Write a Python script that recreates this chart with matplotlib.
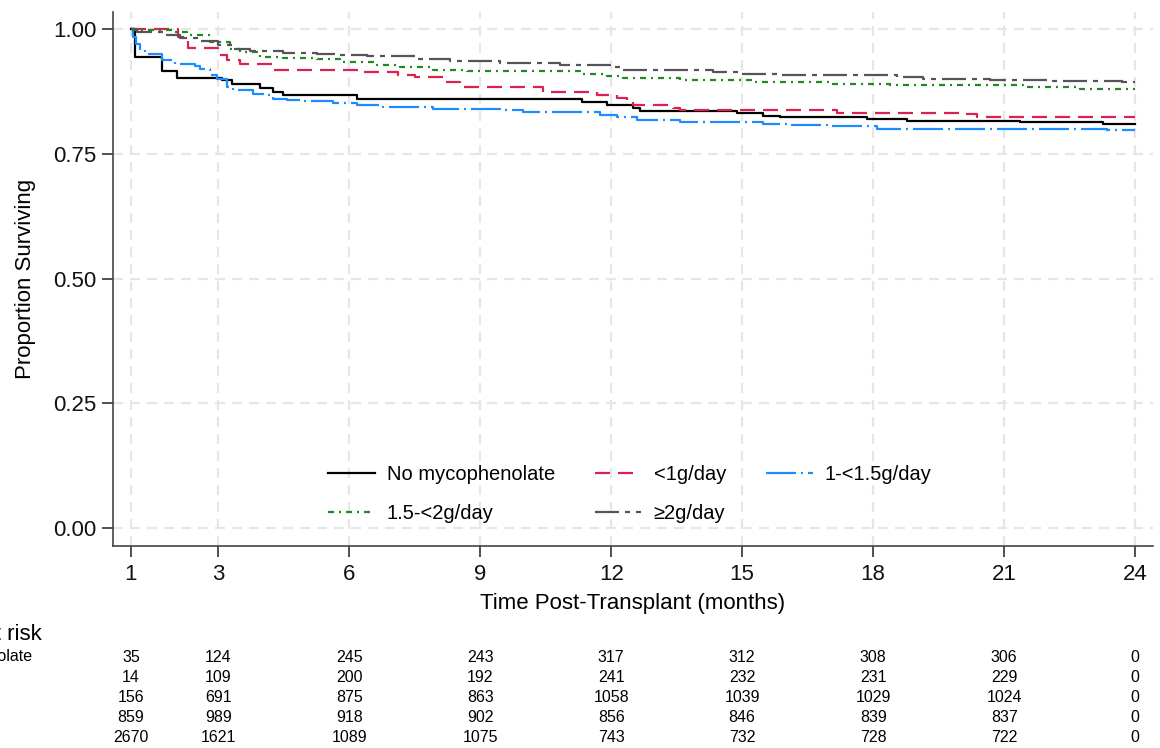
import matplotlib
matplotlib.use("Agg")
import matplotlib.pyplot as plt
from matplotlib.transforms import blended_transform_factory

plt.rcParams['font.family'] = ['Liberation Sans', 'DejaVu Sans']
plt.rcParams['lines.scale_dashes'] = False

# ---------------- data ----------------
groups = ["No mycophenolate", "<1g/day", "1-<1.5g/day", "1.5-<2g/day", "\u22652g/day"]

t_none = [1.00, 1.09, 1.71, 2.05, 3.08, 3.31, 3.96, 4.25, 4.48, 6.18, 11.33, 11.90, 12.50,
          12.66, 14.88, 15.48, 15.87, 17.86, 18.78, 21.37, 23.27, 24.0]
s_none = [1.000, 0.944, 0.916, 0.903, 0.898, 0.891, 0.882, 0.874, 0.868, 0.861, 0.854, 0.848,
          0.842, 0.836, 0.832, 0.826, 0.824, 0.821, 0.816, 0.814, 0.811, 0.811]

t_lt1 = [1.00, 2.08, 2.31, 2.99, 3.20, 3.50, 4.23, 6.32, 7.12, 7.51, 8.15, 8.54, 10.44, 11.68,
         12.13, 12.36, 12.50, 13.42, 13.58, 17.17, 20.04, 20.38, 24.0]
s_lt1 = [1.000, 0.985, 0.963, 0.948, 0.938, 0.931, 0.919, 0.914, 0.908, 0.904, 0.894, 0.884,
         0.874, 0.868, 0.863, 0.856, 0.848, 0.843, 0.838, 0.833, 0.830, 0.824, 0.824]

t_1to15 = [1.00, 1.05, 1.12, 1.21, 1.32, 1.71, 2.01, 2.47, 2.58, 2.81, 2.96, 3.19, 3.34, 3.80,
           4.11, 4.26, 4.57, 4.87, 5.63, 6.17, 6.77, 7.92, 9.45, 9.98, 11.74, 12.13, 12.59,
           13.58, 15.48, 16.10, 16.95, 18.09, 18.40, 23.36, 24.0]
s_1to15 = [1.000, 0.985, 0.970, 0.958, 0.951, 0.938, 0.931, 0.926, 0.921, 0.908, 0.901, 0.884,
           0.878, 0.871, 0.868, 0.861, 0.858, 0.856, 0.852, 0.848, 0.844, 0.841, 0.838, 0.834,
           0.828, 0.824, 0.819, 0.814, 0.811, 0.808, 0.806, 0.801, 0.800, 0.798, 0.798]

t_15to2 = [1.00, 1.05, 1.96, 2.28, 2.81, 3.27, 3.50, 3.96, 4.48, 5.26, 5.79, 6.64, 7.16, 7.92,
           8.70, 11.29, 11.91, 12.27, 13.58, 15.25, 17.01, 17.24, 18.39, 21.44, 22.74, 24.0]
s_15to2 = [1.000, 0.998, 0.995, 0.988, 0.975, 0.961, 0.955, 0.944, 0.942, 0.940, 0.934, 0.928,
           0.924, 0.919, 0.916, 0.911, 0.906, 0.902, 0.898, 0.894, 0.891, 0.890, 0.888, 0.884,
           0.881, 0.881]

t_ge2 = [1.00, 1.14, 1.82, 2.12, 2.58, 2.99, 3.34, 3.73, 4.48, 5.26, 5.79, 6.41, 7.55, 8.31,
         9.45, 10.83, 11.97, 12.20, 14.33, 14.95, 15.87, 18.55, 19.14, 20.68, 21.82, 22.12,
         23.70, 24.0]
s_ge2 = [1.000, 0.995, 0.988, 0.983, 0.977, 0.969, 0.961, 0.957, 0.953, 0.951, 0.948, 0.946,
         0.941, 0.936, 0.932, 0.928, 0.924, 0.918, 0.914, 0.911, 0.908, 0.904, 0.901, 0.899,
         0.898, 0.896, 0.894, 0.894]

x_ticks = [1, 3, 6, 9, 12, 15, 18, 21, 24]
y_ticks = [0.00, 0.25, 0.50, 0.75, 1.00]

risk_times = [1, 3, 6, 9, 12, 15, 18, 21, 24]
risk_none = [35, 124, 245, 243, 317, 312, 308, 306, 0]
risk_lt1 = [14, 109, 200, 192, 241, 232, 231, 229, 0]
risk_1to15 = [156, 691, 875, 863, 1058, 1039, 1029, 1024, 0]
risk_15to2 = [859, 989, 918, 902, 856, 846, 839, 837, 0]
risk_ge2 = [2670, 1621, 1089, 1075, 743, 732, 728, 722, 0]

# ---------------- style ----------------
PX = 0.72  # points per pixel at dpi 100
colors = ["#000000", "#DC2050", "#1E8CFF", "#208A20", "#555555"]
dashes = [None,
          (15 * PX, 8 * PX),
          (30 * PX, 5 * PX, 2 * PX, 5 * PX),
          (6 * PX, 5 * PX, 2 * PX, 5 * PX),
          (24 * PX, 6 * PX, 5 * PX, 6 * PX)]

fig = plt.figure(figsize=(11.6, 7.48), dpi=100)
ax = fig.add_axes([113 / 1160, 1 - 546 / 748, 1040 / 1160, 534 / 748])

series = [(t_none, s_none), (t_lt1, s_lt1), (t_1to15, s_1to15), (t_15to2, s_15to2), (t_ge2, s_ge2)]
handles = []
for (tt, ss), c, d, lab in zip(series, colors, dashes, groups):
    ln, = ax.step(tt, ss, where='post', color=c, lw=1.6, label=lab, zorder=3)
    if d is not None:
        ln.set_dashes(d)
    handles.append(ln)

ax.set_xlim(0.588, 24.41)
ax.set_ylim(-0.036, 1.035)
ax.set_xticks(x_ticks)
ax.set_yticks(y_ticks)
ax.set_yticklabels([f"{v:.2f}" for v in y_ticks])
ax.tick_params(axis='both', labelsize=16, length=8, width=1.2, color="#333333",
               labelcolor="#111111")
ax.tick_params(axis='x', pad=5)
ax.tick_params(axis='y', pad=4)
for s in ['top', 'right']:
    ax.spines[s].set_visible(False)
for s in ['left', 'bottom']:
    ax.spines[s].set_color("#444444")
    ax.spines[s].set_linewidth(1.2)

ax.grid(True, color="#e6e6e6", lw=1.6, dashes=(10 * PX, 7 * PX), zorder=0)
ax.set_axisbelow(True)

ax.set_ylabel("Proportion Surviving", fontsize=16, labelpad=12)
ax.set_xlabel("Time Post-Transplant (months)", fontsize=16, labelpad=6)

order = [0, 3, 1, 4, 2]
leg = ax.legend([handles[i] for i in order], [groups[i] for i in order], ncol=3,
                loc='lower center', bbox_to_anchor=(0.497, 0.009), frameon=False,
                fontsize=14.5, handlelength=2.3, handletextpad=0.6, columnspacing=2.0,
                labelspacing=1.0)

# ---------------- at-risk table ----------------
tr = blended_transform_factory(ax.transData, fig.transFigure)
fig.text(42 / 1160, 1 - 634 / 748, "Number at risk", ha='right', va='center', fontsize=16)
row_y = [657, 677, 697, 717, 737]
risk_rows = [risk_none, risk_lt1, risk_1to15, risk_15to2, risk_ge2]
for lab, yy, row in zip(groups, row_y, risk_rows):
    fig.text(-101 / 1160, 1 - yy / 748, lab, ha='left', va='center', fontsize=11.5)
    for tx, n in zip(risk_times, row):
        ax.text(tx, 1 - yy / 748, str(n), transform=tr, ha='center', va='center',
                fontsize=11.5, clip_on=False)

fig.savefig("out.png", dpi=100)
